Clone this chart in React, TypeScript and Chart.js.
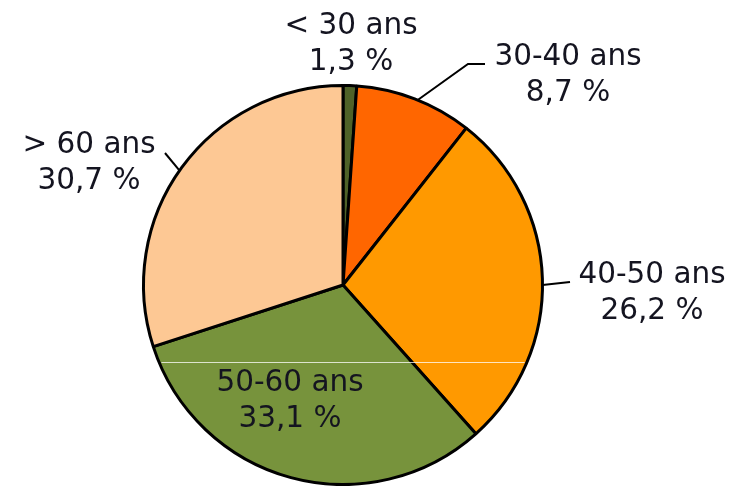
import React, { useEffect, useRef } from "react";
import { Chart, registerables } from "chart.js";

Chart.register(...registerables);

const categories = ["< 30 ans", "30-40 ans", "40-50 ans", "50-60 ans", "> 60 ans"];
// slice shares as drawn in the picture (measured from slice angles)
const values = [1.1, 9.5, 27.8, 31.6, 30.0];
// printed labels
const valueLabels = ["1,3 %", "8,7 %", "26,2 %", "33,1 %", "30,7 %"];
const colors = ["#4f6228", "#ff6600", "#ff9900", "#77933c", "#fdc894"];

// label placement relative to pie center (dx, dy of first line center)
const labelOffsets = [
  [8, -259],
  [225, -228],
  [309, -10],
  [-53, 98],
  [-254, -140],
];
// leader lines: [angleDeg from top clockwise, end dx, end dy, horizontal end dx]
const leaders: (number[] | null)[] = [
  null,
  [22, 125, -221, 142],
  [90, 227, -3, 227],
  null,
  [-55, -178, -132, -178],
];

const labelPlugin = {
  id: "pieLabels",
  afterDatasetsDraw(chart: any) {
    const ctx = chart.ctx;
    const meta = chart.getDatasetMeta(0);
    const arc = meta.data[0];
    const cx = arc.x;
    const cy = arc.y;
    const r = arc.outerRadius;
    ctx.save();
    // faint horizontal artifact line
    ctx.beginPath();
    ctx.arc(cx, cy, r - 2, 0, Math.PI * 2);
    ctx.clip();
    ctx.strokeStyle = "rgba(255,255,255,0.75)";
    ctx.lineWidth = 1;
    ctx.beginPath();
    ctx.moveTo(cx - r, cy + 77.5);
    ctx.lineTo(cx + r, cy + 77.5);
    ctx.stroke();
    ctx.restore();

    ctx.save();
    ctx.strokeStyle = "#000";
    ctx.lineWidth = 2;
    leaders.forEach((l) => {
      if (!l) return;
      const a = (l[0] * Math.PI) / 180;
      const sx = cx + r * Math.sin(a);
      const sy = cy - r * Math.cos(a);
      ctx.beginPath();
      ctx.moveTo(sx, sy);
      ctx.lineTo(cx + l[1], cy + l[2]);
      ctx.lineTo(cx + l[3], cy + l[2]);
      ctx.stroke();
    });
    ctx.fillStyle = "#141420";
    ctx.font = '29.5px "DejaVu Sans", Verdana, sans-serif';
    ctx.textAlign = "center";
    ctx.textBaseline = "middle";
    categories.forEach((c, i) => {
      const [dx, dy] = labelOffsets[i];
      ctx.fillText(c, cx + dx, cy + dy);
      ctx.fillText(valueLabels[i], cx + dx, cy + dy + 36);
    });
    ctx.restore();
  },
};

export default function App() {
  const ref = useRef<HTMLCanvasElement>(null);
  useEffect(() => {
    if (!ref.current) return;
    const chart = new Chart(ref.current, {
      type: "pie",
      data: {
        labels: categories,
        datasets: [
          {
            data: values,
            backgroundColor: colors,
            borderColor: "#000",
            borderWidth: 3,
          },
        ],
      },
      options: {
        animation: false,
        responsive: false,
        maintainAspectRatio: false,
        layout: { padding: { left: 0, right: 56, top: 84, bottom: 0 } },
        plugins: {
          legend: { display: false },
          tooltip: { enabled: false },
        },
      },
      plugins: [labelPlugin],
    });
    return () => chart.destroy();
  }, []);
  return (
    <div style={{ position: "fixed", left: 0, top: 0, width: 742, height: 486, background: "#fff" }}>
      <canvas ref={ref} width={742} height={486} style={{ width: 742, height: 486 }} />
    </div>
  );
}
